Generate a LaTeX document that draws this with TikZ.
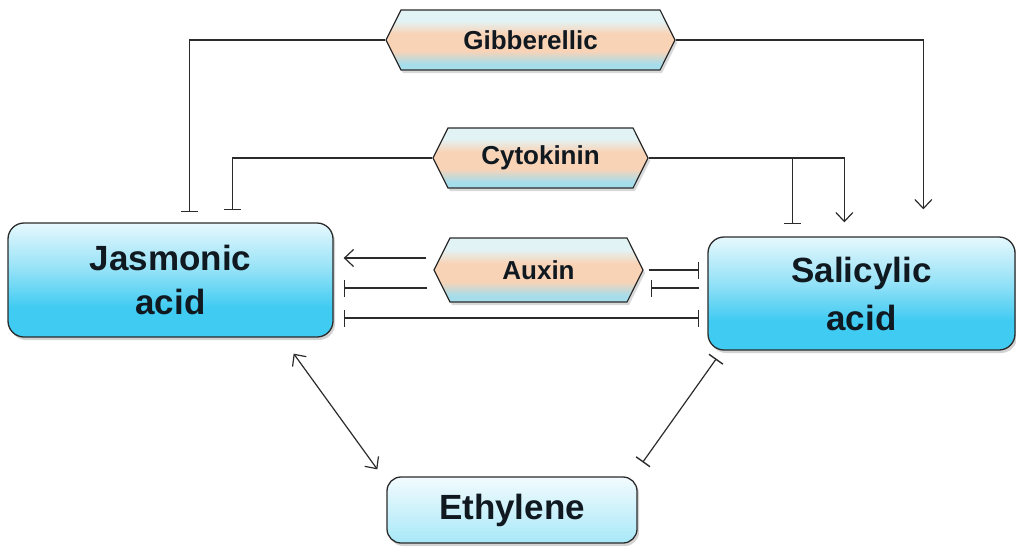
\documentclass[tikz,border=0pt]{standalone}
\usepackage{fontspec}
\setmainfont{Liberation Sans}
\usetikzlibrary{arrows.meta,shapes.symbols,shadows,calc}
\definecolor{boxtop}{HTML}{E6F8FD}
\definecolor{boxmid}{HTML}{96E2F7}
\definecolor{boxbot}{HTML}{40CBF2}
\definecolor{ethtop}{HTML}{F2FBFE}
\definecolor{ethbot}{HTML}{A8E8F8}
\definecolor{hextop}{HTML}{E2F3F5}
\definecolor{hexmid}{HTML}{F9D3B6}
\definecolor{hexbot}{HTML}{A6DDEB}
\definecolor{ln}{HTML}{2B2B2B}
\definecolor{txt}{HTML}{101820}
\pgfdeclareverticalshading{hexshade}{100bp}{color(0bp)=(hexbot); color(30bp)=(hexbot); color(41bp)=(hexmid); color(55bp)=(hexmid); color(66bp)=(hextop); color(100bp)=(hextop)}
\pgfdeclareverticalshading{boxshade}{100bp}{color(0bp)=(boxbot); color(38bp)=(boxbot); color(55bp)=(boxmid); color(75bp)=(boxtop); color(100bp)=(boxtop)}
\begin{document}
\begin{tikzpicture}[x=1pt,y=-1pt,
  bigbox/.style={rectangle, rounded corners=16pt, draw=ln, line width=1.3pt,
    shading=boxshade, text=txt,
    drop shadow={shadow xshift=2pt,shadow yshift=-3pt,opacity=.35},
    font=\bfseries\fontsize{35}{44}\selectfont, align=center, inner sep=0pt},
  ethbox/.style={rectangle, rounded corners=14pt, draw=ln, line width=1.3pt,
    top color=ethtop, bottom color=ethbot, text=txt,
    drop shadow={shadow xshift=2pt,shadow yshift=-3pt,opacity=.35},
    font=\bfseries\fontsize{35}{44}\selectfont, inner sep=0pt},
  hexbox/.style={signal, signal to=west and east, signal pointer angle=127,
    draw=ln, line width=1.2pt, shading=hexshade, text=txt,
    drop shadow={shadow xshift=2pt,shadow yshift=-3pt,opacity=.3},
    font=\bfseries\fontsize{26}{30}\selectfont, inner sep=0pt},
  conn/.style={draw=ln, line width=1.2pt},
  act/.style={conn, -{Straight Barb[length=9pt,width=17pt,line width=1.2pt]}},
  actb/.style={conn, {Straight Barb[length=9pt,width=17pt,line width=1.2pt]}-{Straight Barb[length=9pt,width=17pt,line width=1.2pt]}},
  inh/.style={conn, -{Bar[width=17pt,line width=1.4pt]}},
  inhb/.style={conn, {Bar[width=17pt,line width=1.4pt]}-{Bar[width=17pt,line width=1.4pt]}},
]
\useasboundingbox (0,0) rectangle (1016,546);

\node[bigbox, minimum width=325pt, minimum height=114pt] (ja) at (170.5,280) {Jasmonic\\acid};
\node[bigbox, minimum width=307pt, minimum height=113pt, font=\bfseries\fontsize{35}{48}\selectfont] (sa) at (861.5,293.5) {Salicylic\\acid};
\node[ethbox, minimum width=250pt, minimum height=66pt] (eth) at (512,510) {Ethylene};
\node[hexbox, minimum width=289pt, minimum height=60pt] (gib) at (530.5,40) {Gibberellic};
\node[hexbox, minimum width=215pt, minimum height=60pt] (cyt) at (540.5,158) {Cytokinin};
\node[hexbox, minimum width=209pt, minimum height=64pt] (aux) at (538.5,270) {Auxin};

% Gibberellic
\draw[inh, shorten >=10pt] (gib.west) -| ([xshift=182pt]ja.north west);
\draw[act, shorten >=27pt] (gib.east) -| ([xshift=216pt]sa.north west);
% Cytokinin
\draw[inh, shorten >=12pt] (cyt.west) -| ([xshift=225pt]ja.north west);
\draw[act, shorten >=14pt] (cyt.east) -| ([xshift=137pt]sa.north west);
\coordinate (cb) at ([xshift=85pt]sa.north west);
\draw[inh] (cb |- cyt.east) -- ([yshift=12pt]cb);
% Auxin
\draw[act, shorten >=10pt] ([xshift=-7pt,yshift=12pt]aux.west) -- (ja.east |- 0,258);
\draw[inh, shorten >=10pt] ([xshift=-6pt,yshift=-18pt]aux.west) -- (ja.east |- 0,288);
\draw[inh, shorten >=8pt] ([xshift=5pt]aux.east) -- (sa.west |- aux.east);
\draw[inh, shorten <=8pt] (sa.west |- 0,288) -- ([xshift=7pt,yshift=-18pt]aux.east);
\draw[inhb, shorten <=10pt, shorten >=8pt] (ja.east |- 0,318) -- (sa.west |- 0,318);
% Ethylene
\draw[actb] ([xshift=-40pt,yshift=-16pt]ja.south east) -- ([xshift=-9pt,yshift=7pt]eth.north west);
\draw[inhb] ([xshift=9pt,yshift=-8pt]sa.south west) -- ([xshift=5pt,yshift=14pt]eth.north east);
\end{tikzpicture}
\end{document}
